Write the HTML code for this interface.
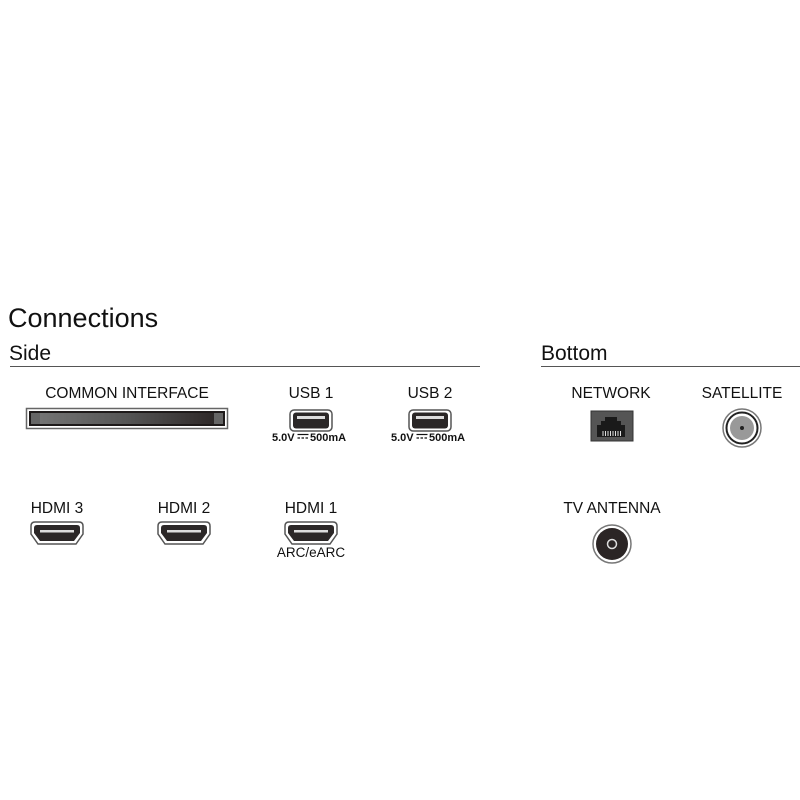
<!DOCTYPE html>
<html><head><meta charset="utf-8"><style>
html,body{margin:0;padding:0;background:#fff;width:800px;height:800px;overflow:hidden}
svg{display:block}
text{font-family:"Liberation Sans","DejaVu Sans",sans-serif;fill:#111}
</style></head><body>
<svg width="800" height="800" viewBox="0 0 800 800">
<defs>
<linearGradient id="ci" x1="0" y1="0" x2="1" y2="0">
<stop offset="0" stop-color="#777"/><stop offset="0.5" stop-color="#555"/><stop offset="1" stop-color="#2a2424"/>
</linearGradient>
<g id="usb">
<rect x="-21" y="-10" width="42" height="21" rx="4" fill="#fff" stroke="#555" stroke-width="1.5"/>
<rect x="-18" y="-7.5" width="36" height="16" rx="3" fill="#2b2727"/>
<rect x="-14" y="-4" width="28" height="3" fill="#ddd"/>
</g>
<g id="hdmi">
<path d="M-22,-11 H22 Q26,-11 26,-7 V1 L19,11 H-19 L-26,1 V-7 Q-26,-11 -22,-11 Z" fill="#fff" stroke="#555" stroke-width="1.5"/>
<path d="M-20,-8 H20 Q23,-8 23,-5 V0 L17,8 H-17 L-23,0 V-5 Q-23,-8 -20,-8 Z" fill="#2b2727"/>
<rect x="-17" y="-3" width="34" height="2.5" fill="#ddd"/>
</g>
</defs>
<text x="8" y="327" font-size="27">Connections</text>
<text x="9" y="360" font-size="21">Side</text>
<line x1="10" y1="366.5" x2="480" y2="366.5" stroke="#555" stroke-width="1"/>
<text x="541" y="360" font-size="21">Bottom</text>
<line x1="541" y1="366.5" x2="800" y2="366.5" stroke="#555" stroke-width="1"/>

<g font-size="15.5" text-anchor="middle">
<text x="127" y="398">COMMON INTERFACE</text>
<text x="311" y="398">USB 1</text>
<text x="430" y="398">USB 2</text>
<text x="611" y="398">NETWORK</text>
<text x="742" y="398">SATELLITE</text>
<text x="57" y="513">HDMI 3</text>
<text x="184" y="513">HDMI 2</text>
<text x="311" y="513">HDMI 1</text>
<text x="612" y="513">TV ANTENNA</text>
<text x="311" y="557" font-size="13.5">ARC/eARC</text>
</g>
<g font-size="11" font-weight="bold">
<text x="272" y="441">5.0V</text><text x="310" y="441">500mA</text>
<text x="391" y="441">5.0V</text><text x="429" y="441">500mA</text>
</g>
<g stroke="#111" stroke-width="1.2">
<line x1="297.5" y1="434.5" x2="308.5" y2="434.5"/><line x1="297.5" y1="438" x2="308.5" y2="438" stroke-dasharray="2.5,1.5"/>
<line x1="416.5" y1="434.5" x2="427.5" y2="434.5"/><line x1="416.5" y1="438" x2="427.5" y2="438" stroke-dasharray="2.5,1.5"/>
</g>

<rect x="26.5" y="408.5" width="201" height="20" fill="#fff" stroke="#666" stroke-width="1.5"/>
<rect x="29" y="411" width="196" height="15" fill="#1e1a1a"/>
<rect x="31" y="413" width="192" height="11" fill="url(#ci)"/>
<rect x="31" y="413" width="9" height="11" fill="#666"/>
<rect x="214" y="413" width="9" height="11" fill="#666"/>

<use href="#usb" x="311" y="420"/>
<use href="#usb" x="430" y="420"/>
<use href="#hdmi" x="57" y="533"/>
<use href="#hdmi" x="184" y="533"/>
<use href="#hdmi" x="311" y="533"/>

<rect x="591" y="411" width="42" height="30" fill="#555" stroke="#333"/>
<path d="M597,437 V425 H601 V421 H605 V417 H617 V421 H621 V425 H625 V437 Z" fill="#1a1a1a"/>
<g stroke="#ddd" stroke-width="1">
<line x1="603" y1="431" x2="603" y2="436"/><line x1="605.5" y1="431" x2="605.5" y2="436"/>
<line x1="608" y1="431" x2="608" y2="436"/><line x1="610.5" y1="431" x2="610.5" y2="436"/>
<line x1="613" y1="431" x2="613" y2="436"/><line x1="615.5" y1="431" x2="615.5" y2="436"/>
<line x1="618" y1="431" x2="618" y2="436"/><line x1="620.5" y1="431" x2="620.5" y2="436"/>
</g>

<circle cx="742" cy="428" r="19" fill="#fff" stroke="#777" stroke-width="1.5"/>
<circle cx="742" cy="428" r="15.5" fill="#fff" stroke="#222" stroke-width="2"/>
<circle cx="742" cy="428" r="12" fill="#999"/>
<circle cx="742" cy="428" r="2" fill="#222"/>

<circle cx="612" cy="544" r="19" fill="#fff" stroke="#777" stroke-width="1.5"/>
<circle cx="612" cy="544" r="16" fill="#2b2525"/>
<circle cx="612" cy="544" r="4.5" fill="none" stroke="#ddd" stroke-width="1.5"/>
</svg>
</body></html>
